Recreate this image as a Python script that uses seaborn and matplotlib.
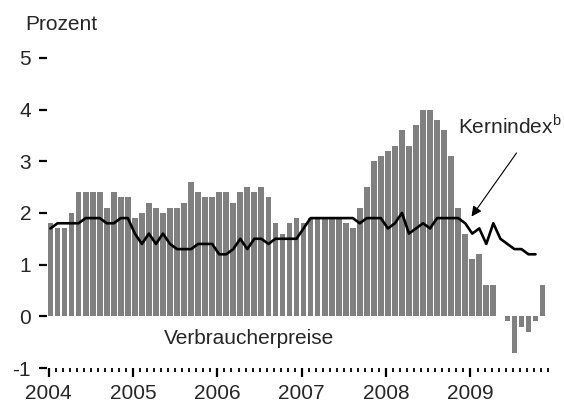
# Verbraucherpreise und Kernindex, 2004-2009 (Monatswerte, Veraenderung ggue. Vorjahr in %)

import numpy as np
import pandas as pd
import matplotlib
matplotlib.use("Agg")
import matplotlib.pyplot as plt
import seaborn as sns

# Daten
years = ["2004", "2005", "2006", "2007", "2008", "2009"]

verbraucherpreise = [
    1.8, 1.7, 1.7, 2.0, 2.4, 2.4, 2.4, 2.4, 2.1, 2.4, 2.3, 2.3,   # 2004
    1.9, 2.0, 2.2, 2.1, 2.0, 2.1, 2.1, 2.2, 2.6, 2.4, 2.3, 2.3,   # 2005
    2.4, 2.4, 2.2, 2.4, 2.5, 2.4, 2.5, 2.3, 1.8, 1.6, 1.8, 1.9,   # 2006
    1.8, 1.9, 1.9, 1.9, 1.9, 1.9, 1.8, 1.7, 2.1, 2.5, 3.0, 3.1,   # 2007
    3.2, 3.3, 3.6, 3.3, 3.7, 4.0, 4.0, 3.8, 3.6, 3.1, 2.1, 1.6,   # 2008
    1.1, 1.2, 0.6, 0.6, 0.0, -0.1, -0.7, -0.2, -0.3, -0.1, 0.6,  # 2009
]

kernindex = [
    1.7, 1.8, 1.8, 1.8, 1.8, 1.9, 1.9, 1.9, 1.8, 1.8, 1.9, 1.9,   # 2004
    1.6, 1.4, 1.6, 1.4, 1.6, 1.4, 1.3, 1.3, 1.3, 1.4, 1.4, 1.4,   # 2005
    1.2, 1.2, 1.3, 1.5, 1.3, 1.5, 1.5, 1.4, 1.5, 1.5, 1.5, 1.5,   # 2006
    1.7, 1.9, 1.9, 1.9, 1.9, 1.9, 1.9, 1.9, 1.8, 1.9, 1.9, 1.9,   # 2007
    1.7, 1.8, 2.0, 1.6, 1.7, 1.8, 1.7, 1.9, 1.9, 1.9, 1.9, 1.8,   # 2008
    1.6, 1.7, 1.4, 1.8, 1.5, 1.4, 1.3, 1.3, 1.2, 1.2,             # 2009
]

df_vp = pd.DataFrame({"monat": np.arange(len(verbraucherpreise)), "wert": verbraucherpreise})
df_ki = pd.DataFrame({"monat": np.arange(len(kernindex)), "wert": kernindex})

sns.set_style("white")
plt.rcParams["font.family"] = ["Liberation Sans", "DejaVu Sans"]
plt.rcParams["axes.unicode_minus"] = False
plt.rcParams["mathtext.fontset"] = "custom"
plt.rcParams["mathtext.rm"] = "Liberation Sans"
fs = 15

fig = plt.figure(figsize=(5.64, 4.03), dpi=100)
ax = fig.add_axes([0.0833, 0.0868, 0.8911, 0.7697])

sns.barplot(data=df_vp, x="monat", y="wert", color="#808080", saturation=1,
            width=0.82, edgecolor="none", linewidth=0, ax=ax)
sns.lineplot(data=df_ki, x="monat", y="wert", color="black", lw=1.9, ax=ax)

ax.set_xlim(-0.5, 71.0)
ax.set_ylim(-1, 5)
ax.set_xlabel("")
ax.set_ylabel("")

# Achsen: Monatsstriche, Jahresbeschriftung
ticks = np.arange(72) - 0.25
ax.set_xticks(ticks[::12])
ax.set_xticklabels(years)
ax.set_xticks(ticks, minor=True)
ax.set_yticks(range(-1, 6))
ax.set_yticklabels([str(v) for v in range(-1, 6)])

ax.tick_params(axis="x", which="major", direction="out", length=6.5, width=1.6,
               pad=5, labelsize=fs, color="black", bottom=True)
ax.tick_params(axis="x", which="minor", direction="out", length=3.2, width=1.3,
               color="black", bottom=True)
ax.tick_params(axis="y", direction="out", length=5.5, width=1.6, pad=6,
               labelsize=fs, color="black", left=True)
for s in ax.spines.values():
    s.set_visible(False)

fig.text(25 / 564, 1 - 30 / 403, "Prozent", fontsize=fs, va="baseline")
ax.text(28.2, -0.526, "Verbraucherpreise", fontsize=fs, ha="center", va="baseline")
ax.text(58.0, 3.54, "Kernindex$^{\\mathrm{b}}$", fontsize=fs, va="baseline")
ax.annotate("", xy=(59.9, 1.93), xytext=(66.3, 3.16),
            arrowprops=dict(arrowstyle="-|>", color="black", lw=0.8,
                            mutation_scale=15, shrinkA=0, shrinkB=0))

fig.savefig("out.png", dpi=100)
